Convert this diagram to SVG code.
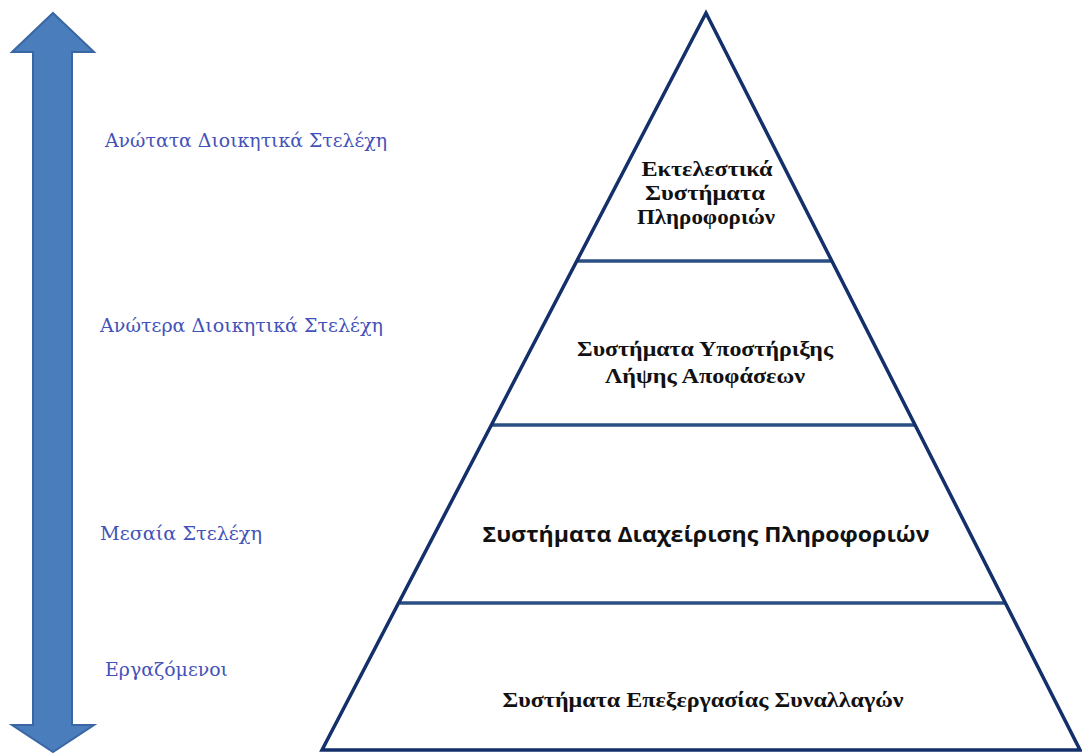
<svg xmlns="http://www.w3.org/2000/svg" width="1082" height="753" viewBox="0 0 1082 753">
  <style>
    .edge { stroke: #13306a; stroke-width: 3.5; fill: none; stroke-linejoin: miter; }
    .tier { stroke: #2b4f82; stroke-width: 3.5; fill: none; }
    .level { font-family: "DejaVu Serif", "Liberation Serif", serif; font-size: 19px; fill: #4352b8; }
    .sys { font-family: "Liberation Serif", "DejaVu Serif", serif; font-size: 21px; font-weight: bold; fill: #111; text-anchor: middle; }
    .sys-sans { font-family: "Open Sans", "Liberation Sans", sans-serif; font-size: 21px; font-weight: bold; fill: #111; text-anchor: middle; }
  </style>
  <rect width="1082" height="753" fill="#ffffff"/>

  <!-- vertical double-headed arrow for the management hierarchy -->
  <g id="hierarchy-arrow">
    <path d="M53,13 L94,52 L72,52 L72,725 L94,725 L53,752 L12,725 L33,725 L33,52 L12,52 Z" fill="#4a7dbb" stroke="#3a67a3" stroke-width="2" stroke-linejoin="miter"/>
  </g>

  <!-- management level labels -->
  <g id="level-top"><text class="level" x="105" y="147" textLength="282" lengthAdjust="spacingAndGlyphs">Ανώτατα Διοικητικά Στελέχη</text></g>
  <g id="level-senior"><text class="level" x="100" y="332" textLength="283" lengthAdjust="spacingAndGlyphs">Ανώτερα Διοικητικά Στελέχη</text></g>
  <g id="level-middle"><text class="level" x="100" y="540" textLength="162" lengthAdjust="spacingAndGlyphs">Μεσαία Στελέχη</text></g>
  <g id="level-staff"><text class="level" x="105" y="676" textLength="123" lengthAdjust="spacingAndGlyphs">Εργαζόμενοι</text></g>

  <!-- pyramid outline and tier dividers -->
  <g id="connectors">
    <line class="tier" x1="578" y1="261" x2="833" y2="261"/>
    <line class="tier" x1="492" y1="425" x2="916" y2="425"/>
    <line class="tier" x1="400" y1="603" x2="1006" y2="603"/>
    <path class="edge" d="M706,13 L322,750 L1080,750 Z"/>
  </g>

  <!-- pyramid tiers -->
  <g id="tier-ess">
    <text class="sys" x="707" y="176" textLength="131" lengthAdjust="spacingAndGlyphs">Εκτελεστικά</text>
    <text class="sys" x="705" y="200" textLength="120" lengthAdjust="spacingAndGlyphs">Συστήματα</text>
    <text class="sys" x="706" y="224" textLength="138" lengthAdjust="spacingAndGlyphs">Πληροφοριών</text>
  </g>
  <g id="tier-dss">
    <text class="sys" x="705" y="356" textLength="256" lengthAdjust="spacingAndGlyphs">Συστήματα Υποστήριξης</text>
    <text class="sys" x="705" y="383" textLength="200" lengthAdjust="spacingAndGlyphs">Λήψης Αποφάσεων</text>
  </g>
  <g id="tier-mis">
    <text class="sys-sans" x="706" y="542" textLength="447" lengthAdjust="spacingAndGlyphs">Συστήματα Διαχείρισης Πληροφοριών</text>
  </g>
  <g id="tier-tps">
    <text class="sys" x="703" y="707" textLength="401" lengthAdjust="spacingAndGlyphs">Συστήματα Επεξεργασίας Συναλλαγών</text>
  </g>
</svg>
